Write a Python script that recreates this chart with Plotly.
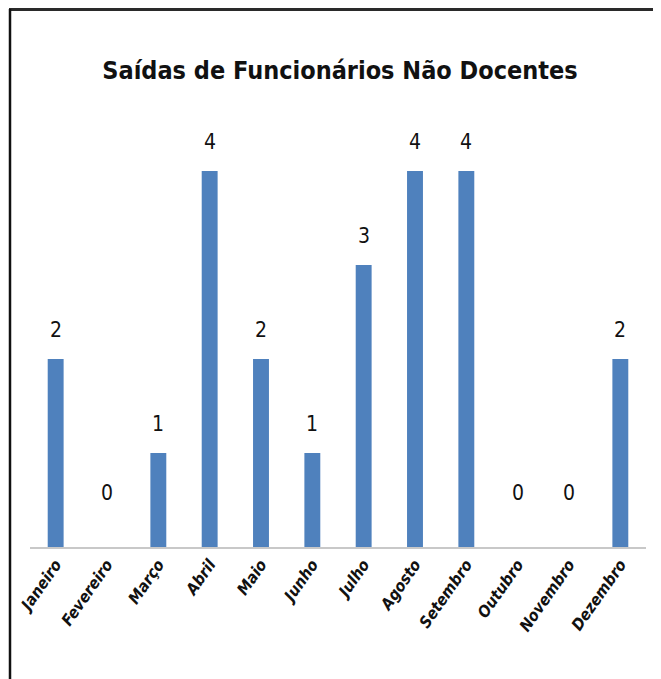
import plotly.graph_objects as go

months = ["Janeiro", "Fevereiro", "Março", "Abril", "Maio", "Junho",
          "Julho", "Agosto", "Setembro", "Outubro", "Novembro", "Dezembro"]
saidas = [2, 0, 1, 4, 2, 1, 3, 4, 4, 0, 0, 2]
title_text = "Saídas de Funcionários Não Docentes"

# page body has an 8px margin, so the figure is drawn 8px in
OFF = 8
W, H = 661 - OFF, 679 - OFF
ML, MR, MT, MB = 30 - OFF, 15, 124 - OFF, 132
PW, PH = W - ML - MR, H - MT - MB

def px_x(px):
    return (px - OFF - ML) / PW

def px_y(py):
    return (H - MB - (py - OFF)) / PH

NARROW = "Liberation Sans Narrow, Arial Narrow, DejaVu Sans Condensed, sans-serif"

fig = go.Figure()
fig.add_trace(go.Bar(
    x=months, y=saidas,
    marker=dict(color="#4F81BD", line=dict(width=0)),
    hoverinfo="x+y",
))

for m, v in zip(months, saidas):
    fig.add_annotation(
        x=m, y=v, text=str(v), showarrow=False,
        yanchor="bottom", yshift=(40 if v == 0 else 15),
        font=dict(family=NARROW, size=21, color="#111111"),
    )

shapes = [
    dict(type="line", xref="paper", yref="paper",
         x0=px_x(9), x1=px_x(661), y0=px_y(9.5), y1=px_y(9.5),
         line=dict(color="#2a2a2a", width=3)),
    dict(type="line", xref="paper", yref="paper",
         x0=px_x(10), x1=px_x(10), y0=px_y(9), y1=px_y(679),
         line=dict(color="#111111", width=2.5)),
    dict(type="line", xref="paper", yref="paper",
         x0=px_x(658), x1=px_x(658), y0=px_y(9), y1=px_y(679),
         line=dict(color="#8a8a8a", width=1.5)),
]

fig.update_layout(
    width=W, height=H,
    margin=dict(l=ML, r=MR, t=MT, b=MB, autoexpand=False),
    paper_bgcolor="white", plot_bgcolor="white",
    showlegend=False,
    bargap=0.69,
    title=dict(text="<b>" + title_text + "</b>", x=(340 - OFF) / W, xanchor="center",
               y=1 - (70 - OFF) / H, yanchor="middle", yref="container",
               font=dict(family=NARROW, size=25, color="#111111")),
    shapes=shapes,
    xaxis=dict(
        type="category", showline=True, linecolor="#c8c8c8", linewidth=1.5,
        ticks="", tickangle=-55,
        tickvals=months,
        ticktext=["<b><i>" + m + "</i></b>" for m in months],
        tickfont=dict(family=NARROW, size=16, color="#111111"),
        showgrid=False, zeroline=False, fixedrange=True,
    ),
    yaxis=dict(range=[0, 4.5], visible=False, showgrid=False, zeroline=False),
)

fig.write_html("out.html")
